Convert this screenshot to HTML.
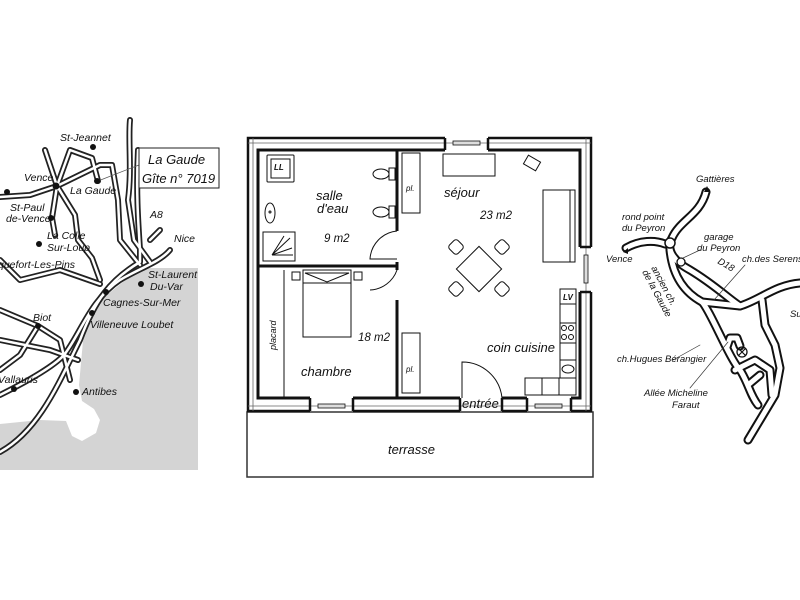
<!DOCTYPE html>
<html><head><meta charset="utf-8"><style>
html,body{margin:0;padding:0;background:#fff}
svg{display:block}
text{font-family:"Liberation Sans",sans-serif;font-style:italic;fill:#111}
</style></head><body>
<svg width="800" height="600" viewBox="0 0 800 600" xmlns="http://www.w3.org/2000/svg">
<rect width="800" height="600" fill="#fff"/>

<!-- LEFT MAP -->
<polygon points="140,268 198,268 198,470 0,470 0,424 40,420 66,421 72,436 82,441 96,433 100,420 94,409 82,401 79,385 84,330 98,302 118,286" fill="#d4d4d4"/>
<g fill="none" stroke-linecap="round" stroke-linejoin="round">
<g stroke="#222" stroke-width="6">
<path d="M0,452 C40,430 60,380 80,340 C95,300 110,280 140,262 L140,250 C138,220 136,190 138,150"/>
<path d="M0,395 C30,380 55,365 64,355 C80,335 90,300 120,280 C140,268 160,262 170,250"/>
<path d="M57,186 L45,150 M57,186 L70,150 L92,158 L98,181 M57,186 L100,165 L112,165 L118,200 L120,240 L140,265"/>
<path d="M57,186 L30,195 L0,197 M57,186 L52,218 L55,235 M57,186 L75,215 L78,240 L92,258 L100,280"/>
<path d="M0,260 L20,280 L60,270 L100,284 M0,310 L38,326 L60,340 L70,380 M0,340 L50,350 L78,360 M38,326 L20,355 L0,370"/>
<path d="M130,120 C128,140 132,170 128,200 L134,240 L150,262 M150,240 L160,230"/>
</g>
<g stroke="#fff" stroke-width="2.5">
<path d="M0,452 C40,430 60,380 80,340 C95,300 110,280 140,262 L140,250 C138,220 136,190 138,150"/>
<path d="M0,395 C30,380 55,365 64,355 C80,335 90,300 120,280 C140,268 160,262 170,250"/>
<path d="M57,186 L45,150 M57,186 L70,150 L92,158 L98,181 M57,186 L100,165 L112,165 L118,200 L120,240 L140,265"/>
<path d="M57,186 L30,195 L0,197 M57,186 L52,218 L55,235 M57,186 L75,215 L78,240 L92,258 L100,280"/>
<path d="M0,260 L20,280 L60,270 L100,284 M0,310 L38,326 L60,340 L70,380 M0,340 L50,350 L78,360 M38,326 L20,355 L0,370"/>
<path d="M130,120 C128,140 132,170 128,200 L134,240 L150,262 M150,240 L160,230"/>
</g>
<path d="M98,181 L139,165" stroke="#555" stroke-width="0.7"/>
</g>
<g fill="#111">
<circle cx="93" cy="147" r="3"/><circle cx="56" cy="186" r="3.5"/><circle cx="97" cy="181" r="3"/><circle cx="7" cy="192" r="3"/>
<circle cx="51" cy="218" r="3"/><circle cx="39" cy="244" r="3"/><circle cx="141" cy="284" r="3"/><circle cx="106" cy="292" r="3"/>
<circle cx="92" cy="313" r="3"/><circle cx="38" cy="326" r="3"/><circle cx="14" cy="389" r="3"/><circle cx="76" cy="392" r="3"/>
</g>
<g font-size="10.5">
<text x="60" y="141">St-Jeannet</text>
<text x="24" y="181">Vence</text>
<text x="70" y="194">La Gaude</text>
<text x="10" y="211">St-Paul</text>
<text x="6" y="222">de-Vence</text>
<text x="47" y="239">La Colle</text>
<text x="47" y="251">Sur-Loup</text>
<text x="-2" y="268">quefort-Les-Pins</text>
<text x="150" y="218">A8</text>
<text x="174" y="242">Nice</text>
<text x="148" y="278">St-Laurent</text>
<text x="150" y="290">Du-Var</text>
<text x="103" y="306">Cagnes-Sur-Mer</text>
<text x="33" y="321">Biot</text>
<text x="90" y="328">Villeneuve Loubet</text>
<text x="-2" y="383">Vallauris</text>
<text x="82" y="395">Antibes</text>
</g>
<rect x="139" y="148" width="80" height="40" fill="#fff" stroke="#222" stroke-width="1"/>
<text x="148" y="164" font-size="13">La Gaude</text>
<text x="142" y="183" font-size="13">Gîte n° 7019</text>

<!-- FLOOR PLAN -->
<g fill="none" stroke="#111">
<rect x="247" y="412" width="346" height="65" stroke="#333" stroke-width="1.5"/>
<path d="M310,411 L248,411 L248,138 L445,138 M488,138 L591,138 L591,247 M591,292 L591,411 L571,411 M527,411 L502,411 M460,411 L353,411" stroke-width="2.5"/>
<path d="M310,398 L258,398 L258,150 L445,150 M488,150 L580,150 L580,247 M580,292 L580,398 L571,398 M527,398 L502,398 M460,398 L353,398" stroke-width="3"/>
<path d="M253,138 L253,411 M248,143 L591,143 M586,138 L586,411 M248,406 L591,406" stroke-width="0.8" stroke="#666"/>
<path d="M445,138 V150 M488,138 V150 M310,398 V411 M353,398 V411 M527,398 V411 M571,398 V411 M460,398 V411 M502,398 V411 M580,247 H591 M580,292 H591" stroke-width="2.5"/>
<rect x="453" y="141" width="27" height="4" stroke-width="0.8" fill="#ddd"/>
<rect x="318" y="404" width="27" height="4" stroke-width="0.8" fill="#ddd"/>
<rect x="535" y="404" width="27" height="4" stroke-width="0.8" fill="#ddd"/>
<rect x="584" y="255" width="4" height="28" stroke-width="0.8" fill="#ddd"/>
<path d="M397,150 V231 M397,262 V266 H258 M397,266 V270 M397,300 V398" stroke-width="3"/>
<path d="M397,231 A30,30 0 0 0 370,259 L397,259" stroke-width="1"/>
<path d="M397,270 A30,30 0 0 1 370,290" stroke-width="1"/>
<path d="M462,398 L462,362 A40,40 0 0 1 502,398" stroke-width="1"/>
<g stroke-width="1">
<rect x="267" y="155" width="27" height="27" rx="1"/><rect x="271" y="159" width="19" height="19"/>
<ellipse cx="270" cy="213" rx="5" ry="10"/><circle cx="270" cy="212" r="1"/>
<rect x="263" y="232" width="32" height="29"/>
<path d="M272,255 L290,238 M272,255 L292,248 M272,255 L284,236 M272,255 L293,255"/>
<ellipse cx="381" cy="174" rx="8" ry="5"/><rect x="389" y="168" width="6" height="12"/>
<ellipse cx="381" cy="212" rx="8" ry="5"/><rect x="389" y="206" width="6" height="12"/>
<rect x="402" y="153" width="18" height="60"/>
<rect x="402" y="333" width="18" height="60"/>
<rect x="443" y="154" width="52" height="22"/>
<rect x="525" y="158" width="14" height="10" transform="rotate(30 532 163)"/>
<rect x="543" y="190" width="32" height="72"/><rect x="543" y="190" width="27" height="72"/>
<rect x="463" y="253" width="32" height="32" transform="rotate(45 479 269)"/>
<rect x="450" y="241" width="12" height="12" rx="3" transform="rotate(45 456 247)"/>
<rect x="496" y="241" width="12" height="12" rx="3" transform="rotate(45 502 247)"/>
<rect x="450" y="283" width="12" height="12" rx="3" transform="rotate(45 456 289)"/>
<rect x="496" y="283" width="12" height="12" rx="3" transform="rotate(45 502 289)"/>
<rect x="560" y="289" width="16" height="15"/>
<rect x="560" y="304" width="16" height="74"/>
<path d="M560,323 H576 M560,343 H576 M560,360 H576"/>
<circle cx="564" cy="328" r="2.5"/><circle cx="571" cy="328" r="2.5"/><circle cx="564" cy="337" r="2.5"/><circle cx="571" cy="337" r="2.5"/>
<ellipse cx="568" cy="369" rx="6" ry="4"/>
<rect x="525" y="378" width="51" height="17"/><path d="M542,378 V395 M559,378 V395"/>
<path d="M284,270 V398"/>
<rect x="303" y="270" width="48" height="67"/>
<path d="M305,273 H349 L327,282 Z M303,283 H351"/>
<rect x="292" y="272" width="8" height="8"/><rect x="354" y="272" width="8" height="8"/>
</g>
</g>
<g font-size="13">
<text x="316" y="200">salle</text>
<text x="317" y="213">d'eau</text>
<text x="324" y="242" font-size="11.5">9 m2</text>
<text x="444" y="197">séjour</text>
<text x="480" y="219" font-size="11.5">23 m2</text>
<text x="358" y="341" font-size="11.5">18 m2</text>
<text x="301" y="376">chambre</text>
<text x="487" y="352">coin cuisine</text>
<text x="462" y="408">entrée</text>
<text x="388" y="454">terrasse</text>
<text x="406" y="191" font-size="8">pl.</text>
<text x="406" y="372" font-size="8">pl.</text>
<text x="274" y="170" font-size="8" font-weight="bold">LL</text>
<text x="563" y="300" font-size="8" font-weight="bold">LV</text>
<text font-size="9" transform="translate(276,350) rotate(-90)">placard</text>
</g>

<!-- RIGHT MAP -->
<g fill="none" stroke-linecap="round" stroke-linejoin="round">
<g stroke="#111" stroke-width="9">
<path d="M706,192 C700,215 680,220 672,238 C665,250 675,262 690,270 C715,285 730,300 740,306"/>
<path d="M626,248 C640,240 655,240 665,244"/>
<path d="M670,250 C672,270 680,290 702,302 C710,310 730,360 740,370 C748,382 750,395 758,405"/>
<path d="M702,302 L740,306 C760,300 775,285 800,283"/>
<path d="M762,300 L765,325 L775,345 L780,368 L775,395 L760,420 L748,440"/>
<path d="M735,370 L755,360 L770,370 L772,395 M748,385 L760,375"/>
<path d="M727,347 L730,338 L737,338 L740,346"/>
</g>
<g stroke="#fff" stroke-width="5">
<path d="M706,192 C700,215 680,220 672,238 C665,250 675,262 690,270 C715,285 730,300 740,306"/>
<path d="M626,248 C640,240 655,240 665,244"/>
<path d="M670,250 C672,270 680,290 702,302 C710,310 730,360 740,370 C748,382 750,395 758,405"/>
<path d="M702,302 L740,306 C760,300 775,285 800,283"/>
<path d="M762,300 L765,325 L775,345 L780,368 L775,395 L760,420 L748,440"/>
<path d="M735,370 L755,360 L770,370 L772,395 M748,385 L760,375"/>
<path d="M727,347 L730,338 L737,338 L740,346"/>
</g>
<circle cx="670" cy="243" r="5" stroke="#111" stroke-width="1.5" fill="#fff"/>
<circle cx="681" cy="262" r="4" stroke="#111" stroke-width="1.3" fill="#fff"/>
<circle cx="742" cy="352" r="5" stroke="#111" stroke-width="1.3"/>
<path d="M738.5,348.5 L745.5,355.5 M745.5,348.5 L738.5,355.5" stroke="#111" stroke-width="1.2"/>
<g stroke="#333" stroke-width="0.7">
<path d="M683,258 L700,250 M714,300 L745,265 M673,360 L700,345 M690,388 L728,342"/>
</g>
</g>
<path d="M707,186 L704,192 L710,192 Z M623,252 L628,248 L628,254 Z" fill="#111"/>
<g font-size="9.5">
<text x="696" y="182">Gattières</text>
<text x="622" y="220">rond point</text>
<text x="622" y="231">du Peyron</text>
<text x="606" y="262">Vence</text>
<text x="704" y="240">garage</text>
<text x="697" y="251">du Peyron</text>
<text x="742" y="262">ch.des Serens</text>
<text x="717" y="263" transform="rotate(30 717 263)">D18</text>
<text x="790" y="317">Su</text>
<text x="651" y="268" transform="rotate(62 651 268)">ancien ch.</text>
<text x="642" y="272" transform="rotate(62 642 272)">de la Gaude</text>
<text x="617" y="362">ch.Hugues Bérangier</text>
<text x="644" y="396">Allée Micheline</text>
<text x="672" y="408">Faraut</text>
</g>
</svg>
</body></html>
